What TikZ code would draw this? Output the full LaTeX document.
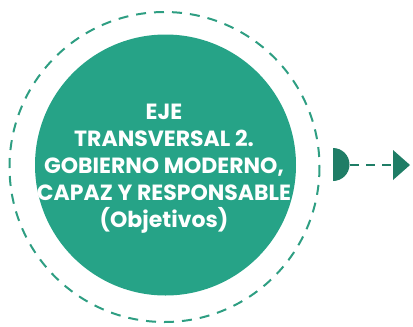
\documentclass[tikz,border=0pt]{standalone}
\usepackage{fontspec}
\setmainfont{Poppins}
\definecolor{mainfill}{HTML}{26A387}
\definecolor{darkg}{HTML}{1F7D66}
\definecolor{dashg}{HTML}{2E9E82}
\begin{document}
\begin{tikzpicture}[x=1pt,y=-1pt,
  outerring/.style={draw=dashg,line width=2pt,dash pattern=on 10pt off 8pt},
  linkline/.style={draw=darkg,line width=2.2pt,dash pattern=on 9pt off 7pt}]
\useasboundingbox (0,0) rectangle (413,327);
\draw[outerring] (164.5,167) circle (155);
\node[circle,fill=mainfill,minimum size=261pt,inner sep=0pt] (core) at (165.5,165) {};
\node[text=white,font=\bfseries\fontsize{22}{27}\selectfont,align=center] (title) at (164,168.5)
  {EJE\\TRANSVERSAL 2.\\GOBIERNO MODERNO,\\CAPAZ Y RESPONSABLE\\(Objetivos)};
\fill[darkg] (333,148) arc[start angle=-90,end angle=90,radius=16.5] -- cycle;
\coordinate (hs) at (350,165);
\coordinate (tipbase) at (392,165);
\draw[linkline] (hs) -- (tipbase);
\fill[darkg] (393,150) -- (410,165) -- (393,180) -- cycle;
\end{tikzpicture}
\end{document}
